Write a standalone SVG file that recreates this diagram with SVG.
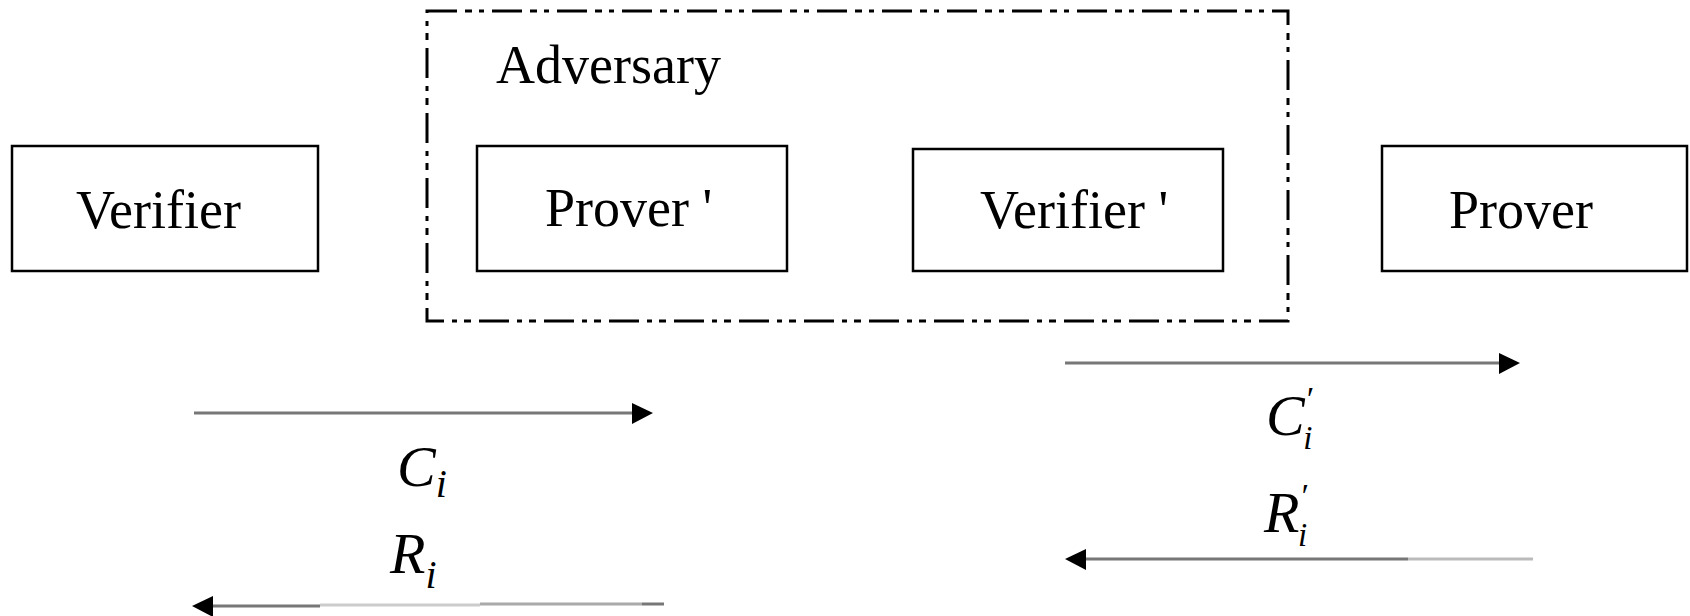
<svg xmlns="http://www.w3.org/2000/svg" width="1690" height="616" viewBox="0 0 1690 616">
<style>
.box{fill:#fff;stroke:#000;stroke-width:2.5}
.lbl{font-family:"Liberation Serif","Times New Roman",serif;font-size:54px;fill:#000}
.math{font-family:"Liberation Serif","Times New Roman",serif;font-style:italic;fill:#000}
.ln{stroke:#777;stroke-width:3;fill:none}
.ah{fill:#000}
</style>
<rect width="1690" height="616" fill="#fff"/>
<g id="adversary">
<rect x="427" y="11" width="861" height="310" fill="none" stroke="#000" stroke-width="3" stroke-dasharray="30 8 7 7 5 8"/>
<text class="lbl" x="496" y="83">Adversary</text>
</g>
<g id="verifier">
<rect class="box" x="12" y="146" width="306" height="125"/>
<text class="lbl" x="76" y="228">Verifier</text>
</g>
<g id="prover-prime">
<rect class="box" x="477" y="146" width="310" height="125"/>
<text class="lbl" x="545" y="226">Prover '</text>
</g>
<g id="verifier-prime">
<rect class="box" x="913" y="149" width="310" height="122"/>
<text class="lbl" x="980" y="228">Verifier '</text>
</g>
<g id="prover">
<rect class="box" x="1382" y="146" width="305" height="125"/>
<text class="lbl" x="1449" y="228">Prover</text>
</g>
<g id="connectors">
<line class="ln" x1="194" y1="413" x2="640" y2="413"/>
<polygon class="ah" points="632,403 653,413 632,424"/>
<line class="ln" x1="205" y1="606" x2="320" y2="606"/>
<line x1="320" y1="605" x2="480" y2="605" stroke="#ccc" stroke-width="3"/>
<line x1="480" y1="604" x2="642" y2="604" stroke="#aaa" stroke-width="3"/>
<line class="ln" x1="642" y1="604" x2="664" y2="604"/>
<polygon class="ah" points="213,596 192,606 213,617"/>
<line class="ln" x1="1065" y1="363" x2="1508" y2="363"/>
<polygon class="ah" points="1499,353 1520,363 1499,374"/>
<line class="ln" x1="1076" y1="559" x2="1408" y2="559"/>
<line x1="1408" y1="559" x2="1533" y2="559" stroke="#bbb" stroke-width="3"/>
<polygon class="ah" points="1086,549 1065,559 1086,570"/>
</g>
<g id="labels">
<text class="math" x="397" y="486" font-size="58">C<tspan font-size="40" dy="11">i</tspan></text>
<text class="math" x="390" y="573" font-size="58">R<tspan font-size="40" dy="15">i</tspan></text>
<text class="math" x="1266" y="435" font-size="58">C<tspan font-size="34" dy="-25">′</tspan><tspan font-size="33" dx="-9" dy="39">i</tspan></text>
<text class="math" x="1264" y="532" font-size="58">R<tspan font-size="34" dy="-25">′</tspan><tspan font-size="33" dx="-9" dy="39">i</tspan></text>
</g>
</svg>
